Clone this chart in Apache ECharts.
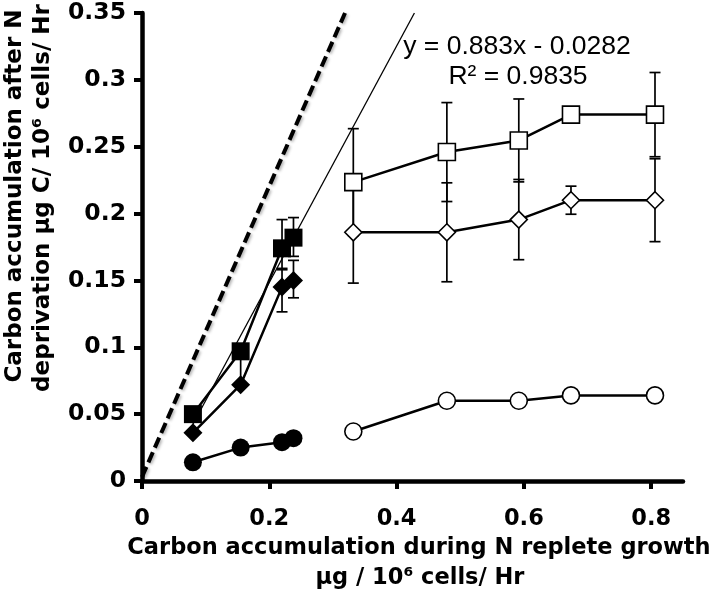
<!DOCTYPE html>
<html><head><meta charset="utf-8">
<script src="https://cdn.jsdelivr.net/npm/echarts@6/dist/echarts.min.js"></script>
<style>html,body{margin:0;padding:0;background:#fff}#c{width:717px;height:593px}</style>
</head><body><div id="c"></div>
<script>
// ---- tick labels ----
const xTickValues = [0, 0.2, 0.4, 0.6, 0.8];
const yTickValues = [0, 0.05, 0.1, 0.15, 0.2, 0.25, 0.3, 0.35];

// ---- filled (left) series ----
const xFilled = [0.080, 0.155, 0.220, 0.238];
const ySqFilled = [0.050, 0.097, 0.174, 0.182];
const sqFilledLo = [null, null, 0.159, 0.168];
const sqFilledHi = [null, null, 0.1955, 0.197];
const yDiaFilled = [0.036, 0.072, 0.145, 0.150];
const diaFilledLo = [null, null, 0.1265, 0.137];
const diaFilledHi = [null, 0.092, 0.158, 0.165];
const yCircFilled = [0.014, 0.025, 0.029, 0.032];

// ---- open (right) series ----
const xOpen = [0.332, 0.479, 0.592, 0.674, 0.806];
const ySqOpen = [0.2235, 0.246, 0.2547, 0.274, 0.274];
const sqOpenErr = [0.040, 0.037, 0.031, 0, 0.0315];
const yDiaOpen = [0.186, 0.186, 0.1955, 0.210, 0.210];
const diaOpenErr = [0.038, 0.037, 0.030, 0.0105, 0.031];
const yCircOpen = [0.037, 0.060, 0.060, 0.064, 0.064];

// ---- reference lines ----
const trendX = [0.080, 0.428];
const trendY = [0.0424, 0.350];
const refX = [0.000, 0.319];
const refY = [0.003, 0.350];

const eqLine1 = 'y = 0.883x - 0.0282';
const eqLine2 = 'R² = 0.9835';

function pts(xs, ys) { return xs.map((x, i) => [x, ys[i]]); }
function errData(xs, ys, lo, hi) {
  const out = [];
  xs.forEach((x, i) => {
    const l = lo[i] == null ? ys[i] : lo[i];
    const h = hi[i] == null ? ys[i] : hi[i];
    if (l === h) return;
    out.push([x, l, h, lo[i] == null ? 0 : 1, hi[i] == null ? 0 : 1]);
  });
  return out;
}
function symErr(xs, ys, e) {
  return errData(xs, ys, ys.map((y, i) => e[i] ? y - e[i] : null), ys.map((y, i) => e[i] ? y + e[i] : null));
}

const errAll = [].concat(
  errData(xFilled, ySqFilled, sqFilledLo, sqFilledHi),
  errData(xFilled, yDiaFilled, diaFilledLo, diaFilledHi),
  symErr(xOpen, ySqOpen, sqOpenErr),
  symErr(xOpen, yDiaOpen, diaOpenErr)
);

const BOLD = '"DejaVu Sans", sans-serif';
const chart = echarts.init(document.getElementById('c'), null, {renderer: 'canvas'});

const lineBase = {type: 'line', z: 3, lineStyle: {color: '#000', width: 2.5}, emphasis: {disabled: true}, animation: false};

chart.setOption({
  animation: false,
  backgroundColor: '#fff',
  grid: {left: 142, right: 34, top: 13, bottom: 112},
  xAxis: {
    type: 'value', min: 0, max: 0.85, interval: 0.2,
    splitLine: {show: false},
    axisLine: {onZero: false, lineStyle: {color: '#000', width: 4.5}},
    axisTick: {customValues: xTickValues, length: 8, lineStyle: {color: '#000', width: 4}},
    axisLabel: {customValues: xTickValues, color: '#000', fontFamily: BOLD, fontWeight: 'bold', fontSize: 22.5, margin: 27,
      formatter: v => String(+v.toFixed(2))}
  },
  yAxis: {
    type: 'value', min: 0, max: 0.35, interval: 0.05,
    splitLine: {show: false},
    axisLine: {onZero: false, lineStyle: {color: '#000', width: 4.5}},
    axisTick: {customValues: yTickValues, length: 8, lineStyle: {color: '#000', width: 4}},
    axisLabel: {customValues: yTickValues, color: '#000', fontFamily: BOLD, fontWeight: 'bold', fontSize: 23.5, margin: 16,
      formatter: v => String(+v.toFixed(2))}
  },
  graphic: [
    {type: 'text', x: 517, y: 47, style: {text: eqLine1, fill: '#000', font: '26.5px "Liberation Sans", Arial, sans-serif', textAlign: 'center', textVerticalAlign: 'middle'}},
    {type: 'text', x: 518, y: 77, style: {text: eqLine2, fill: '#000', font: '26.5px "Liberation Sans", Arial, sans-serif', textAlign: 'center', textVerticalAlign: 'middle'}},
    {type: 'text', x: 419, y: 548, style: {text: 'Carbon accumulation during N replete growth', fill: '#000', font: 'bold 22.5px ' + BOLD, textAlign: 'center', textVerticalAlign: 'middle'}},
    {type: 'text', x: 420, y: 578, style: {text: 'µg / 10⁶ cells/ Hr', fill: '#000', font: 'bold 22.5px ' + BOLD, textAlign: 'center', textVerticalAlign: 'middle'}},
    {type: 'text', x: 15, y: 196, rotation: Math.PI / 2, style: {text: 'Carbon accumulation after N', fill: '#000', font: 'bold 23px ' + BOLD, textAlign: 'center', textVerticalAlign: 'middle'}},
    {type: 'text', x: 43, y: 198, rotation: Math.PI / 2, style: {text: 'deprivation µg C/ 10⁶ cells/ Hr', fill: '#000', font: 'bold 23px ' + BOLD, textAlign: 'center', textVerticalAlign: 'middle'}}
  ],
  series: [
    {type: 'line', data: pts(refX, refY), symbol: 'none', z: 1, silent: true,
      lineStyle: {color: '#000', width: 4, type: [11, 5], shadowColor: 'rgba(0,0,0,0.3)', shadowBlur: 3, shadowOffsetX: 1.5, shadowOffsetY: 1.5}},
    {type: 'line', data: pts(trendX, trendY), symbol: 'none', z: 1, silent: true,
      lineStyle: {color: '#000', width: 1.3}},
    {type: 'custom', z: 2, silent: true, data: errAll,
      renderItem: function (params, api) {
        const x = api.value(0), lo = api.value(1), hi = api.value(2);
        const pLo = api.coord([x, lo]), pHi = api.coord([x, hi]);
        const hw = 5.5, st = {stroke: '#000', lineWidth: 1.7};
        const ch = [{type: 'line', shape: {x1: pLo[0], y1: pLo[1], x2: pHi[0], y2: pHi[1]}, style: st}];
        if (api.value(3)) ch.push({type: 'line', shape: {x1: pLo[0] - hw, y1: pLo[1], x2: pLo[0] + hw, y2: pLo[1]}, style: st});
        if (api.value(4)) ch.push({type: 'line', shape: {x1: pHi[0] - hw, y1: pHi[1], x2: pHi[0] + hw, y2: pHi[1]}, style: st});
        return {type: 'group', children: ch};
      }},
    Object.assign({}, lineBase, {data: pts(xFilled, ySqFilled), symbol: 'rect', symbolSize: 18, itemStyle: {color: '#000'}}),
    Object.assign({}, lineBase, {data: pts(xFilled, yDiaFilled), symbol: 'diamond', symbolSize: 19, itemStyle: {color: '#000'}}),
    Object.assign({}, lineBase, {data: pts(xFilled, yCircFilled), symbol: 'circle', symbolSize: 18, itemStyle: {color: '#000'}}),
    Object.assign({}, lineBase, {data: pts(xOpen, ySqOpen), symbol: 'rect', symbolSize: 17, itemStyle: {color: '#fff', borderColor: '#000', borderWidth: 1.6}}),
    Object.assign({}, lineBase, {data: pts(xOpen, yDiaOpen), symbol: 'diamond', symbolSize: 17, itemStyle: {color: '#fff', borderColor: '#000', borderWidth: 1.6}}),
    Object.assign({}, lineBase, {data: pts(xOpen, yCircOpen), symbol: 'circle', symbolSize: 17, itemStyle: {color: '#fff', borderColor: '#000', borderWidth: 1.6}})
  ]
});
</script></body></html>
